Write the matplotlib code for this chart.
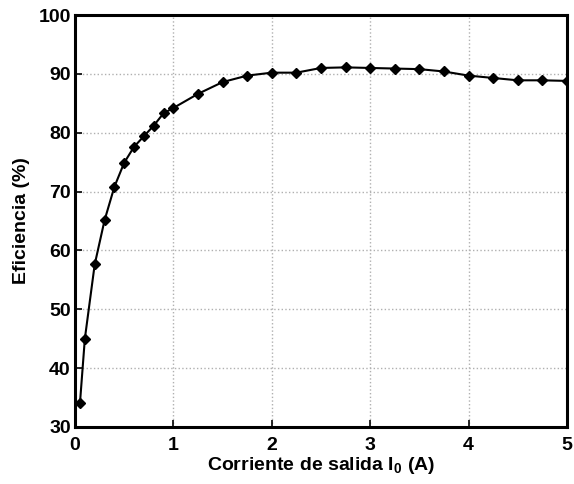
import matplotlib
matplotlib.use("Agg")
import matplotlib.pyplot as plt

plt.rcParams["font.family"] = ["Liberation Sans", "DejaVu Sans"]
plt.rcParams["font.weight"] = "bold"
plt.rcParams["mathtext.fontset"] = "custom"
plt.rcParams["mathtext.rm"] = "Liberation Sans:bold"
plt.rcParams["mathtext.bf"] = "Liberation Sans:bold"

# output current (A) and efficiency (%)
corriente = [0.05, 0.1, 0.2, 0.3, 0.4, 0.5, 0.6, 0.7, 0.8, 0.9, 1.0,
             1.25, 1.5, 1.75, 2.0, 2.25, 2.5, 2.75, 3.0, 3.25, 3.5,
             3.75, 4.0, 4.25, 4.5, 4.75, 5.0]
eficiencia = [34.0, 45.0, 57.6, 65.1, 70.8, 74.9, 77.6, 79.4, 81.2, 83.3, 84.2,
              86.6, 88.6, 89.7, 90.2, 90.2, 91.0, 91.1, 91.0, 90.9, 90.8,
              90.4, 89.7, 89.3, 88.9, 88.9, 88.8]

fig = plt.figure(figsize=(5.74, 4.84), dpi=100)
ax = fig.add_axes([0.1307, 0.118, 0.857, 0.851])

ax.plot(corriente, eficiencia, color="black", lw=1.5, marker="D",
        markersize=5, markerfacecolor="black", markeredgecolor="black")

ax.set_xlim(0, 5)
ax.set_ylim(30, 100)
ax.set_xticks([0, 1, 2, 3, 4, 5])
ax.set_yticks([30, 40, 50, 60, 70, 80, 90, 100])
ax.grid(True, linestyle=":", color="#b0b0b0", lw=1.0)
ax.tick_params(direction="in", length=5, width=1.2, labelsize=14)
ax.tick_params(axis="x", pad=7)
ax.tick_params(axis="y", pad=3)
for s in ax.spines.values():
    s.set_linewidth(2.2)

ax.set_xlabel(r"Corriente de salida I$_\mathbf{0}$ (A)", fontsize=14,
              fontweight="bold", labelpad=1)
ax.set_ylabel("Eficiencia (%)", fontsize=14, fontweight="bold", labelpad=6)

fig.savefig("out.png", dpi=100)
